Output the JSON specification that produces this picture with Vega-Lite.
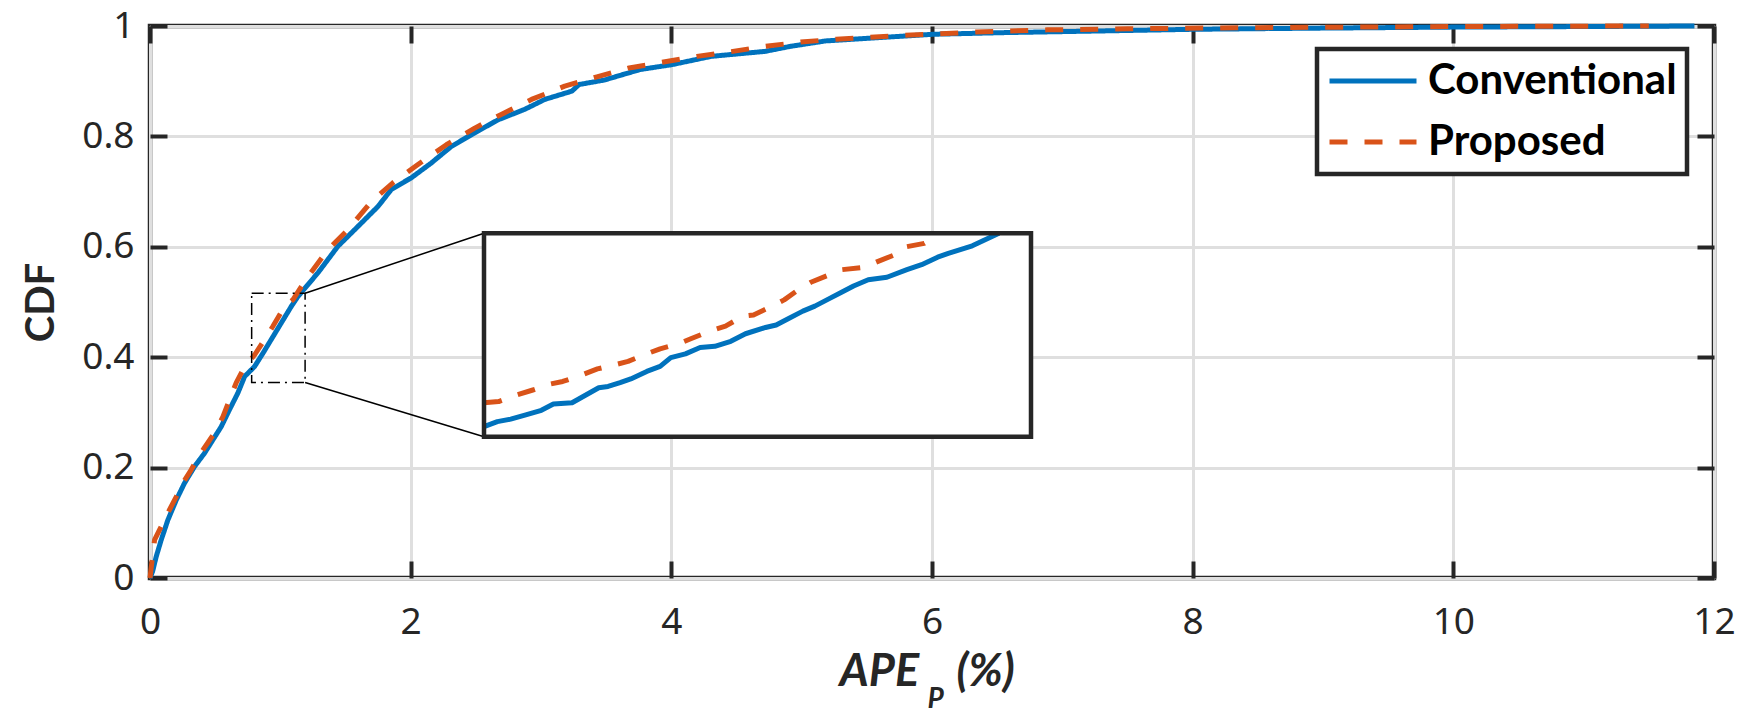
{
  "$schema": "https://vega.github.io/schema/vega-lite/v6.json",
  "width": 1564,
  "height": 552,
  "autosize": "none",
  "padding": {"left": 150, "top": 26, "right": 31, "bottom": 134},
  "background": "white",
  "config": {
    "view": {"stroke": "#262626", "strokeWidth": 4.5},
    "legend": {"strokeWidth": 4.5}
  },
  "datasets": {
    "main": [
      {"m": "Conventional", "x": 0, "y": 0},
      {"m": "Conventional", "x": 0.02, "y": 0.012},
      {"m": "Conventional", "x": 0.048, "y": 0.039},
      {"m": "Conventional", "x": 0.086, "y": 0.069},
      {"m": "Conventional", "x": 0.137, "y": 0.105},
      {"m": "Conventional", "x": 0.201, "y": 0.141},
      {"m": "Conventional", "x": 0.265, "y": 0.172},
      {"m": "Conventional", "x": 0.342, "y": 0.202},
      {"m": "Conventional", "x": 0.418, "y": 0.226},
      {"m": "Conventional", "x": 0.482, "y": 0.25},
      {"m": "Conventional", "x": 0.546, "y": 0.274},
      {"m": "Conventional", "x": 0.61, "y": 0.305},
      {"m": "Conventional", "x": 0.674, "y": 0.335},
      {"m": "Conventional", "x": 0.726, "y": 0.365},
      {"m": "Conventional", "x": 0.802, "y": 0.383},
      {"m": "Conventional", "x": 0.866, "y": 0.407},
      {"m": "Conventional", "x": 0.943, "y": 0.437},
      {"m": "Conventional", "x": 1.007, "y": 0.462},
      {"m": "Conventional", "x": 1.084, "y": 0.492},
      {"m": "Conventional", "x": 1.135, "y": 0.51},
      {"m": "Conventional", "x": 1.289, "y": 0.553},
      {"m": "Conventional", "x": 1.442, "y": 0.601},
      {"m": "Conventional", "x": 1.596, "y": 0.637},
      {"m": "Conventional", "x": 1.749, "y": 0.673},
      {"m": "Conventional", "x": 1.852, "y": 0.704},
      {"m": "Conventional", "x": 2.005, "y": 0.725},
      {"m": "Conventional", "x": 2.159, "y": 0.752},
      {"m": "Conventional", "x": 2.313, "y": 0.782},
      {"m": "Conventional", "x": 2.466, "y": 0.803},
      {"m": "Conventional", "x": 2.67, "y": 0.83},
      {"m": "Conventional", "x": 2.875, "y": 0.849},
      {"m": "Conventional", "x": 3.029, "y": 0.867},
      {"m": "Conventional", "x": 3.237, "y": 0.882},
      {"m": "Conventional", "x": 3.292, "y": 0.894},
      {"m": "Conventional", "x": 3.484, "y": 0.902},
      {"m": "Conventional", "x": 3.758, "y": 0.921},
      {"m": "Conventional", "x": 4.004, "y": 0.93},
      {"m": "Conventional", "x": 4.306, "y": 0.945},
      {"m": "Conventional", "x": 4.718, "y": 0.954},
      {"m": "Conventional", "x": 4.91, "y": 0.963},
      {"m": "Conventional", "x": 5.184, "y": 0.973},
      {"m": "Conventional", "x": 5.596, "y": 0.979},
      {"m": "Conventional", "x": 6.007, "y": 0.985},
      {"m": "Conventional", "x": 6.555, "y": 0.988},
      {"m": "Conventional", "x": 7.29, "y": 0.991},
      {"m": "Conventional", "x": 8.0, "y": 0.994},
      {"m": "Conventional", "x": 8.9, "y": 0.996},
      {"m": "Conventional", "x": 10.0, "y": 0.998},
      {"m": "Conventional", "x": 11.0, "y": 0.999},
      {"m": "Conventional", "x": 11.85, "y": 1.0},
      {"m": "Proposed", "x": 0, "y": 0},
      {"m": "Proposed", "x": 0.015, "y": 0.03},
      {"m": "Proposed", "x": 0.035, "y": 0.069},
      {"m": "Proposed", "x": 0.073, "y": 0.087},
      {"m": "Proposed", "x": 0.137, "y": 0.118},
      {"m": "Proposed", "x": 0.201, "y": 0.147},
      {"m": "Proposed", "x": 0.252, "y": 0.172},
      {"m": "Proposed", "x": 0.316, "y": 0.196},
      {"m": "Proposed", "x": 0.38, "y": 0.223},
      {"m": "Proposed", "x": 0.444, "y": 0.245},
      {"m": "Proposed", "x": 0.508, "y": 0.268},
      {"m": "Proposed", "x": 0.559, "y": 0.292},
      {"m": "Proposed", "x": 0.61, "y": 0.323},
      {"m": "Proposed", "x": 0.662, "y": 0.354},
      {"m": "Proposed", "x": 0.726, "y": 0.383},
      {"m": "Proposed", "x": 0.802, "y": 0.404},
      {"m": "Proposed", "x": 0.879, "y": 0.432},
      {"m": "Proposed", "x": 0.943, "y": 0.456},
      {"m": "Proposed", "x": 1.033, "y": 0.492},
      {"m": "Proposed", "x": 1.096, "y": 0.504},
      {"m": "Proposed", "x": 1.212, "y": 0.546},
      {"m": "Proposed", "x": 1.365, "y": 0.595},
      {"m": "Proposed", "x": 1.519, "y": 0.631},
      {"m": "Proposed", "x": 1.698, "y": 0.682},
      {"m": "Proposed", "x": 1.864, "y": 0.716},
      {"m": "Proposed", "x": 2.056, "y": 0.749},
      {"m": "Proposed", "x": 2.274, "y": 0.785},
      {"m": "Proposed", "x": 2.491, "y": 0.815},
      {"m": "Proposed", "x": 2.722, "y": 0.843},
      {"m": "Proposed", "x": 2.927, "y": 0.867},
      {"m": "Proposed", "x": 3.182, "y": 0.891},
      {"m": "Proposed", "x": 3.429, "y": 0.908},
      {"m": "Proposed", "x": 3.676, "y": 0.924},
      {"m": "Proposed", "x": 3.922, "y": 0.934},
      {"m": "Proposed", "x": 4.196, "y": 0.945},
      {"m": "Proposed", "x": 4.471, "y": 0.954},
      {"m": "Proposed", "x": 4.718, "y": 0.963},
      {"m": "Proposed", "x": 4.992, "y": 0.971},
      {"m": "Proposed", "x": 5.266, "y": 0.976},
      {"m": "Proposed", "x": 5.787, "y": 0.983},
      {"m": "Proposed", "x": 6.336, "y": 0.989},
      {"m": "Proposed", "x": 6.883, "y": 0.993},
      {"m": "Proposed", "x": 7.5, "y": 0.995},
      {"m": "Proposed", "x": 8.5, "y": 0.997},
      {"m": "Proposed", "x": 10.0, "y": 0.999},
      {"m": "Proposed", "x": 11.5, "y": 1.0}
    ],
    "inset": [
      {"m": "Conventional", "x": 0.78, "y": 0.362},
      {"m": "Conventional", "x": 0.79, "y": 0.366},
      {"m": "Conventional", "x": 0.8, "y": 0.368},
      {"m": "Conventional", "x": 0.81, "y": 0.371},
      {"m": "Conventional", "x": 0.823, "y": 0.375},
      {"m": "Conventional", "x": 0.832, "y": 0.38},
      {"m": "Conventional", "x": 0.846, "y": 0.381},
      {"m": "Conventional", "x": 0.856, "y": 0.387},
      {"m": "Conventional", "x": 0.866, "y": 0.393},
      {"m": "Conventional", "x": 0.873, "y": 0.394},
      {"m": "Conventional", "x": 0.882, "y": 0.397},
      {"m": "Conventional", "x": 0.89, "y": 0.4},
      {"m": "Conventional", "x": 0.902, "y": 0.406},
      {"m": "Conventional", "x": 0.912, "y": 0.41},
      {"m": "Conventional", "x": 0.92, "y": 0.417},
      {"m": "Conventional", "x": 0.931, "y": 0.42},
      {"m": "Conventional", "x": 0.942, "y": 0.425},
      {"m": "Conventional", "x": 0.953, "y": 0.426},
      {"m": "Conventional", "x": 0.965, "y": 0.43},
      {"m": "Conventional", "x": 0.976, "y": 0.436},
      {"m": "Conventional", "x": 0.991, "y": 0.441},
      {"m": "Conventional", "x": 0.999, "y": 0.443},
      {"m": "Conventional", "x": 1.008, "y": 0.448},
      {"m": "Conventional", "x": 1.019, "y": 0.454},
      {"m": "Conventional", "x": 1.028, "y": 0.458},
      {"m": "Conventional", "x": 1.037, "y": 0.463},
      {"m": "Conventional", "x": 1.048, "y": 0.469},
      {"m": "Conventional", "x": 1.057, "y": 0.474},
      {"m": "Conventional", "x": 1.068, "y": 0.479},
      {"m": "Conventional", "x": 1.082, "y": 0.481},
      {"m": "Conventional", "x": 1.097, "y": 0.487},
      {"m": "Conventional", "x": 1.108, "y": 0.491},
      {"m": "Conventional", "x": 1.12, "y": 0.497},
      {"m": "Conventional", "x": 1.128, "y": 0.5},
      {"m": "Conventional", "x": 1.134, "y": 0.502},
      {"m": "Conventional", "x": 1.146, "y": 0.506},
      {"m": "Conventional", "x": 1.154, "y": 0.51},
      {"m": "Conventional", "x": 1.166, "y": 0.516},
      {"m": "Proposed", "x": 0.78, "y": 0.381},
      {"m": "Proposed", "x": 0.791, "y": 0.382},
      {"m": "Proposed", "x": 0.804, "y": 0.387},
      {"m": "Proposed", "x": 0.816, "y": 0.391},
      {"m": "Proposed", "x": 0.83, "y": 0.396},
      {"m": "Proposed", "x": 0.839, "y": 0.398},
      {"m": "Proposed", "x": 0.853, "y": 0.403},
      {"m": "Proposed", "x": 0.865, "y": 0.408},
      {"m": "Proposed", "x": 0.877, "y": 0.411},
      {"m": "Proposed", "x": 0.888, "y": 0.414},
      {"m": "Proposed", "x": 0.902, "y": 0.42},
      {"m": "Proposed", "x": 0.912, "y": 0.424},
      {"m": "Proposed", "x": 0.926, "y": 0.428},
      {"m": "Proposed", "x": 0.935, "y": 0.432},
      {"m": "Proposed", "x": 0.949, "y": 0.438},
      {"m": "Proposed", "x": 0.961, "y": 0.442},
      {"m": "Proposed", "x": 0.974, "y": 0.45},
      {"m": "Proposed", "x": 0.982, "y": 0.451},
      {"m": "Proposed", "x": 0.996, "y": 0.458},
      {"m": "Proposed", "x": 1.005, "y": 0.463},
      {"m": "Proposed", "x": 1.017, "y": 0.472},
      {"m": "Proposed", "x": 1.025, "y": 0.477},
      {"m": "Proposed", "x": 1.039, "y": 0.483},
      {"m": "Proposed", "x": 1.048, "y": 0.487},
      {"m": "Proposed", "x": 1.065, "y": 0.489},
      {"m": "Proposed", "x": 1.074, "y": 0.493},
      {"m": "Proposed", "x": 1.088, "y": 0.499},
      {"m": "Proposed", "x": 1.095, "y": 0.505},
      {"m": "Proposed", "x": 1.11, "y": 0.508},
      {"m": "Proposed", "x": 1.12, "y": 0.514}
    ]
  },
  "layer": [
    {
      "data": {"name": "main"},
      "layer": [
        {
          "mark": {"type": "line", "strokeWidth": 5, "strokeCap": "butt", "strokeJoin": "round"},
          "encoding": {
            "x": {
              "field": "x", "type": "quantitative",
              "scale": {"domain": [0, 12], "nice": false, "zero": false},
              "axis": {
                "orient": "bottom", "values": [0, 2, 4, 6, 8, 10, 12],
                "grid": true, "gridColor": "#dfdfdf", "gridWidth": 3,
                "domain": false, "ticks": true, "tickSize": -17, "tickWidth": 4, "tickColor": "#262626",
                "labelPadding": 43, "labelFont": "Noto Sans", "labelFontSize": 37, "labelColor": "#262626",
                "labelFlush": false, "labelOverlap": false,
                "title": "APE", "titleFont": "Lato", "titleFontSize": 45, "titleFontStyle": "italic",
                "titleFontWeight": "bold", "titleColor": "#262626",
                "titleX": 689, "titleY": 107, "titleAlign": "left", "titleBaseline": "alphabetic"
              }
            },
            "y": {
              "field": "y", "type": "quantitative",
              "scale": {"domain": [0, 1], "nice": false, "zero": false},
              "axis": {
                "orient": "left", "values": [0, 0.2, 0.4, 0.6, 0.8, 1], "format": "~g",
                "grid": true, "gridColor": "#dfdfdf", "gridWidth": 3,
                "domain": false, "ticks": true, "tickSize": -17, "tickWidth": 4, "tickColor": "#262626",
                "labelPadding": 33, "labelFont": "Noto Sans", "labelFontSize": 37, "labelColor": "#262626",
                "labelFlush": false, "labelOverlap": false,
                "title": "CDF", "titleFont": "Lato", "titleFontSize": 40, "titleFontWeight": "bold",
                "titleColor": "#262626", "titleAngle": -90,
                "titleX": -109, "titleY": 276, "titleAlign": "center", "titleBaseline": "middle"
              }
            },
            "color": {
              "field": "m", "type": "nominal",
              "scale": {"domain": ["Conventional", "Proposed"], "range": ["#0072BD", "#D95319"]},
              "legend": {
                "title": null, "orient": "none", "legendX": 1167, "legendY": 23,
                "symbolType": "stroke", "symbolSize": 7569, "symbolStrokeWidth": 5, "clipHeight": 44,
                "labelFont": "Lato", "labelFontWeight": "bold", "labelFontSize": 42, "labelColor": "black",
                "labelLimit": 600, "labelOffset": 9, "rowPadding": 17, "padding": 10,
                "strokeColor": "#262626", "fillColor": "white"
              }
            },
            "strokeDash": {
              "field": "m", "type": "nominal",
              "scale": {"domain": ["Conventional", "Proposed"], "range": [[1, 0], [18, 17]]},
              "legend": {
                "title": null, "orient": "none", "legendX": 1167, "legendY": 23,
                "symbolType": "stroke", "symbolSize": 7569, "symbolStrokeWidth": 5, "clipHeight": 44,
                "labelFont": "Lato", "labelFontWeight": "bold", "labelFontSize": 42, "labelColor": "black",
                "labelLimit": 600, "labelOffset": 9, "rowPadding": 17, "padding": 10,
                "strokeColor": "#262626", "fillColor": "white"
              }
            }
          }
        },
        {
          "data": {"values": [{}]},
          "mark": {"type": "point", "opacity": 0},
          "encoding": {
            "x": {
              "datum": 0, "type": "quantitative",
              "scale": {"domain": [0, 12], "nice": false, "zero": false},
              "axis": {
                "orient": "top", "values": [0, 2, 4, 6, 8, 10, 12], "grid": false, "domain": false,
                "labels": false, "ticks": true, "tickSize": -17, "tickWidth": 4, "tickColor": "#262626",
                "title": null
              }
            },
            "y": {
              "datum": 0, "type": "quantitative",
              "scale": {"domain": [0, 1], "nice": false, "zero": false},
              "axis": {
                "orient": "right", "values": [0, 0.2, 0.4, 0.6, 0.8, 1], "grid": false, "domain": false,
                "labels": false, "ticks": true, "tickSize": -17, "tickWidth": 4, "tickColor": "#262626",
                "title": null
              }
            }
          }
        },
        {
          "data": {"values": [{}]},
          "mark": {"type": "point", "opacity": 0},
          "encoding": {
            "x": {
              "datum": 0, "type": "quantitative",
              "scale": {"domain": [0, 12], "nice": false, "zero": false},
              "axis": {
                "orient": "bottom", "grid": false, "domain": false, "labels": false, "ticks": false,
                "title": "P", "titleFont": "Lato", "titleFontSize": 28, "titleFontStyle": "italic",
                "titleFontWeight": "bold", "titleColor": "#262626",
                "titleX": 777, "titleY": 129, "titleAlign": "left", "titleBaseline": "alphabetic"
              }
            }
          }
        },
        {
          "data": {"values": [{}]},
          "mark": {"type": "point", "opacity": 0},
          "encoding": {
            "x": {
              "datum": 0, "type": "quantitative",
              "scale": {"domain": [0, 12], "nice": false, "zero": false},
              "axis": {
                "orient": "bottom", "grid": false, "domain": false, "labels": false, "ticks": false,
                "title": "(%)", "titleFont": "Lato", "titleFontSize": 45, "titleFontStyle": "italic",
                "titleFontWeight": "bold", "titleColor": "#262626",
                "titleX": 806, "titleY": 107, "titleAlign": "left", "titleBaseline": "alphabetic"
              }
            }
          }
        },
        {
          "data": {"values": [{}]},
          "mark": {"type": "rect", "filled": false, "stroke": "black", "strokeWidth": 1.5, "strokeDash": [12, 5, 2, 5]},
          "encoding": {
            "x": {"datum": 0.78, "type": "quantitative", "scale": {"domain": [0, 12], "nice": false, "zero": false}, "axis": null},
            "x2": {"datum": 1.19},
            "y": {"datum": 0.354, "type": "quantitative", "scale": {"domain": [0, 1], "nice": false, "zero": false}, "axis": null},
            "y2": {"datum": 0.516}
          }
        },
        {
          "data": {"values": [{}]},
          "mark": {"type": "rule", "stroke": "black", "strokeWidth": 1.5},
          "encoding": {
            "x": {"datum": 1.19, "type": "quantitative", "scale": {"domain": [0, 12], "nice": false, "zero": false}, "axis": null},
            "x2": {"datum": 2.563},
            "y": {"datum": 0.516, "type": "quantitative", "scale": {"domain": [0, 1], "nice": false, "zero": false}, "axis": null},
            "y2": {"datum": 0.6245}
          }
        },
        {
          "data": {"values": [{}]},
          "mark": {"type": "rule", "stroke": "black", "strokeWidth": 1.5},
          "encoding": {
            "x": {"datum": 1.19, "type": "quantitative", "scale": {"domain": [0, 12], "nice": false, "zero": false}, "axis": null},
            "x2": {"datum": 2.563},
            "y": {"datum": 0.354, "type": "quantitative", "scale": {"domain": [0, 1], "nice": false, "zero": false}, "axis": null},
            "y2": {"datum": 0.256}
          }
        }
      ],
      "resolve": {"axis": {"x": "independent", "y": "independent"}}
    },
    {
      "data": {"name": "inset"},
      "layer": [
        {
          "data": {"values": [{}]},
          "mark": {"type": "rect", "fill": "white", "strokeWidth": 0},
          "encoding": {
            "x": {"datum": 0.78, "type": "quantitative", "scale": {"domain": [0.78, 1.19], "range": [334, 881], "nice": false, "zero": false}, "axis": null},
            "x2": {"datum": 1.19},
            "y": {"datum": 0.354, "type": "quantitative", "scale": {"domain": [0.354, 0.516], "range": [410.7, 207.3], "nice": false, "zero": false}, "axis": null},
            "y2": {"datum": 0.516}
          }
        },
        {
          "transform": [{"filter": "datum.m === 'Conventional'"}],
          "mark": {"type": "line", "stroke": "#0072BD", "strokeWidth": 5, "strokeJoin": "round"},
          "encoding": {
            "x": {"field": "x", "type": "quantitative", "scale": {"domain": [0.78, 1.19], "range": [334, 881], "nice": false, "zero": false}, "axis": null},
            "y": {"field": "y", "type": "quantitative", "scale": {"domain": [0.354, 0.516], "range": [410.7, 207.3], "nice": false, "zero": false}, "axis": null}
          }
        },
        {
          "transform": [{"filter": "datum.m === 'Proposed'"}],
          "mark": {"type": "line", "stroke": "#D95319", "strokeWidth": 5, "strokeDash": [18, 17], "strokeCap": "butt", "strokeJoin": "round"},
          "encoding": {
            "x": {"field": "x", "type": "quantitative", "scale": {"domain": [0.78, 1.19], "range": [334, 881], "nice": false, "zero": false}, "axis": null},
            "y": {"field": "y", "type": "quantitative", "scale": {"domain": [0.354, 0.516], "range": [410.7, 207.3], "nice": false, "zero": false}, "axis": null}
          }
        },
        {
          "data": {"values": [{}]},
          "mark": {"type": "rect", "filled": false, "stroke": "#262626", "strokeWidth": 4.5},
          "encoding": {
            "x": {"datum": 0.78, "type": "quantitative", "scale": {"domain": [0.78, 1.19], "range": [334, 881], "nice": false, "zero": false}, "axis": null},
            "x2": {"datum": 1.19},
            "y": {"datum": 0.354, "type": "quantitative", "scale": {"domain": [0.354, 0.516], "range": [410.7, 207.3], "nice": false, "zero": false}, "axis": null},
            "y2": {"datum": 0.516}
          }
        }
      ]
    }
  ],
  "resolve": {"scale": {"x": "independent", "y": "independent"}}
}
